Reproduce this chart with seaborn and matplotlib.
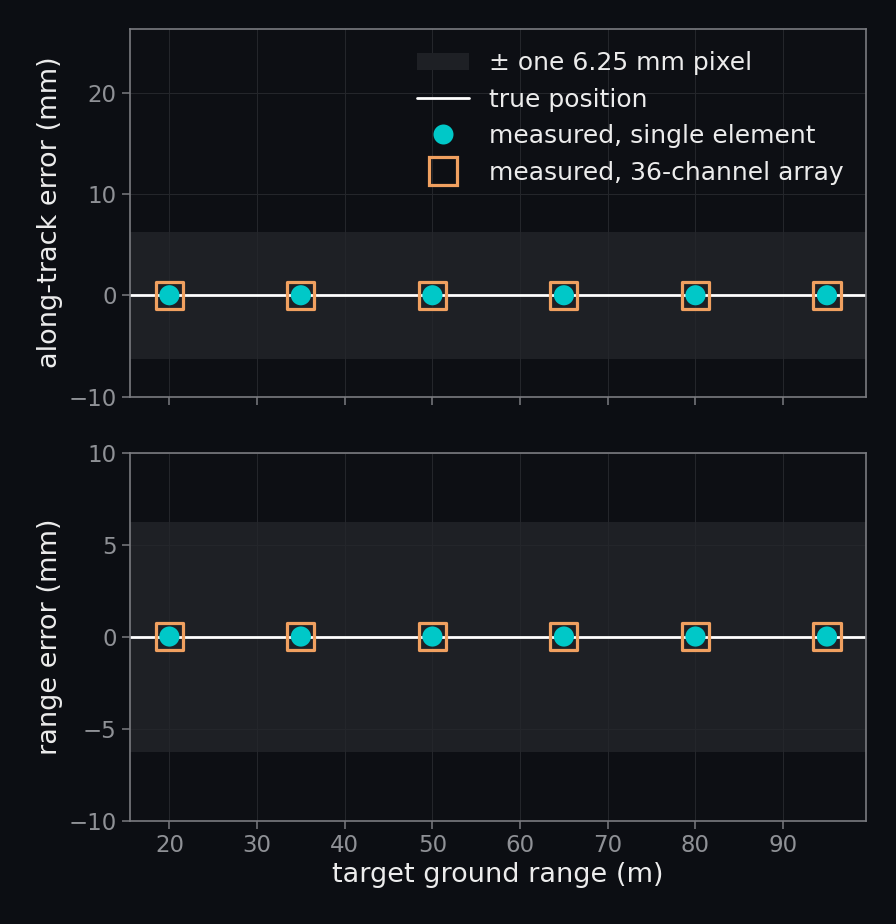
import numpy as np
import pandas as pd
import matplotlib
matplotlib.use("Agg")
import matplotlib.pyplot as plt
import seaborn as sns
from matplotlib.patches import Patch
from matplotlib.lines import Line2D

ranges_m = [20, 35, 50, 65, 80, 95]
along_single = [0, 0, 0, 0, 0, 0]
along_array = [0, 0, 0, 0, 0, 0]
range_single = [0, 0, 0, 0, 0, 0]
range_array = [0, 0, 0, 0, 0, 0]
pixel_mm = 6.25

BG = "#0c0e13"
AX_BG = "#0d0f14"
BAND = "#1e2025"
SPINE = "#7a7b80"
TICK = "#8f9196"
LABEL = "#ececec"
CYAN = "#00c8c8"
ORANGE = "#f0a060"

sns.set_theme(style="dark")
plt.rcParams["font.family"] = ["DejaVu Sans"]

fig, axes = plt.subplots(2, 1, figsize=(8.96, 9.24), dpi=100, sharex=True,
                         facecolor=BG)
fig.subplots_adjust(left=0.145, right=0.967, top=0.969, bottom=0.112, hspace=0.152)

df = pd.DataFrame({"range": ranges_m, "along_single": along_single,
                   "along_array": along_array, "range_single": range_single,
                   "range_array": range_array})

for ax, scol, acol, ylab, ylim, yt in [
    (axes[0], "along_single", "along_array", "along-track error (mm)", (-10, 26.3), [-10, 0, 10, 20]),
    (axes[1], "range_single", "range_array", "range error (mm)", (-10, 10), [-10, -5, 0, 5, 10]),
]:
    ax.set_facecolor(AX_BG)
    ax.axhspan(-pixel_mm, pixel_mm, color=BAND, zorder=0, lw=0)
    ax.axhline(0, color="white", lw=2, zorder=2)
    sns.scatterplot(data=df, x="range", y=acol, ax=ax, marker="s", s=380,
                    facecolor="none", edgecolor=ORANGE, linewidth=2.3, zorder=3)
    sns.scatterplot(data=df, x="range", y=scol, ax=ax, marker="o", s=210,
                    color=CYAN, edgecolor="none", zorder=4)
    ax.set_ylim(*ylim)
    ax.set_yticks(yt)
    ax.set_xlim(15.5, 99.5)
    ax.set_xticks([20, 30, 40, 50, 60, 70, 80, 90])
    ax.grid(True, color="#25272c", lw=0.7, alpha=1.0)
    for s in ax.spines.values():
        s.set_color(SPINE)
        s.set_linewidth(1.2)
    ax.tick_params(colors=SPINE, labelcolor=TICK, labelsize=16.5, length=6, width=1.1,
                   left=True, bottom=True)
    ax.set_ylabel(ylab, color=LABEL, fontsize=19.5)
    ax.set_xlabel("")

axes[0].tick_params(labelbottom=False)
axes[1].set_xlabel("target ground range (m)", color=LABEL, fontsize=19.5)

handles = [
    Patch(facecolor=BAND, edgecolor="none", label="± one 6.25 mm pixel"),
    Line2D([], [], color="white", lw=2, label="true position"),
    Line2D([], [], marker="o", ls="none", color=CYAN, markersize=14.4, markeredgecolor="none",
           label="measured, single element"),
    Line2D([], [], marker="s", ls="none", markerfacecolor="none", markeredgecolor=ORANGE,
           markeredgewidth=2.3, markersize=19.5, label="measured, 36-channel array"),
]
leg = axes[0].legend(handles=handles, loc="upper right", frameon=False, fontsize=18,
                     labelcolor=LABEL, handlelength=2.1, handletextpad=0.8)

fig.savefig("out.png", dpi=100, facecolor=BG)
